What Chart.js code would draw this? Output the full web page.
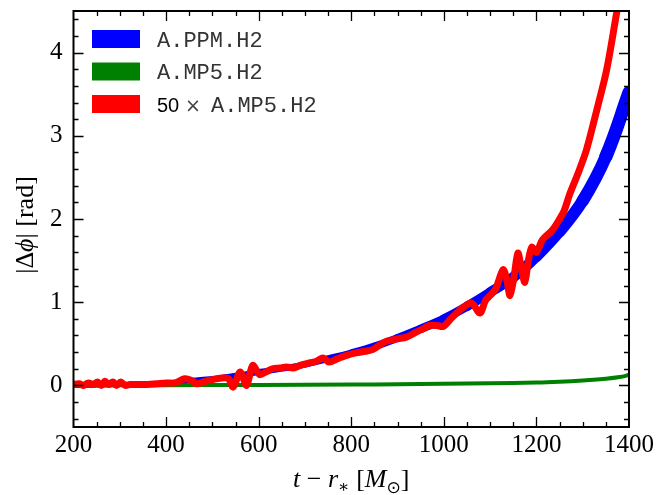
<!DOCTYPE html>
<html>
<head>
<meta charset="utf-8">
<script src="https://cdn.jsdelivr.net/npm/chart.js@4.4.0/dist/chart.umd.min.js"></script>
<style>
  html, body { margin: 0; padding: 0; background: #fff; }
</style>
</head>
<body>
<canvas id="myChart" width="657" height="495"></canvas>
<script>
// Series (t - r_* in M_sun, |delta phi| in rad)
var ppmTime  = [200, 300, 400, 460, 530, 600, 690, 750, 800, 850, 900, 950, 1000, 1050, 1100, 1150, 1200, 1250, 1300, 1350, 1400];
var ppmPhase = [0.0, 0.01, 0.03, 0.06, 0.10, 0.16, 0.24, 0.32, 0.39, 0.47, 0.57, 0.68, 0.80, 0.95, 1.12, 1.30, 1.55, 1.85, 2.22, 2.75, 3.52];

var mp5Time  = [200, 400, 600, 800, 900, 1000, 1100, 1200, 1250, 1300, 1350, 1380, 1400];
var mp5Phase = [0.0, 0.003, 0.006, 0.010, 0.014, 0.020, 0.026, 0.035, 0.045, 0.060, 0.080, 0.100, 0.125];

var mp5x50Time  = [200, 212, 222, 232, 243, 252, 260, 268, 276, 285, 293, 302, 312, 322, 340, 360, 380, 400, 420, 440, 455, 466, 480, 500, 520, 535,
                   545, 560, 574, 587, 602, 615, 630, 646, 660, 675, 690, 710, 725, 739, 752, 770, 790, 810, 830, 846, 860, 876, 900, 919,
                   940, 955, 970, 985, 999, 1015, 1028, 1040, 1060, 1078, 1090, 1100, 1112, 1128, 1136, 1143, 1152, 1160, 1167,
                   1175, 1182, 1190, 1200, 1213, 1235, 1250, 1260, 1272, 1290, 1308, 1330, 1352, 1374, 1390];
var mp5x50Phase = [0.01, 0.02, 0.0, 0.03, 0.01, 0.04, 0.0, 0.05, 0.01, 0.04, 0.0, 0.04, 0.0, 0.01, 0.01, 0.01, 0.02, 0.03, 0.03, 0.08, 0.06, 0.02, 0.04, 0.07, 0.09, 0.08,
                   -0.02, 0.16, 0.0, 0.24, 0.13, 0.16, 0.20, 0.21, 0.22, 0.21, 0.24, 0.27, 0.29, 0.33, 0.28, 0.32, 0.36, 0.39, 0.41, 0.43, 0.48, 0.53, 0.56, 0.58,
                   0.64, 0.68, 0.72, 0.72, 0.71, 0.80, 0.87, 0.93, 0.99, 0.87, 1.02, 1.08, 1.16, 1.39, 1.27, 1.08, 1.32, 1.59, 1.42,
                   1.24, 1.48, 1.66, 1.60, 1.75, 1.87, 2.0, 2.1, 2.3, 2.55, 2.83, 3.30, 3.80, 4.50, 5.00];

var seriesLabels = ['A.PPM.H2', 'A.MP5.H2', '50 × A.MP5.H2'];
var seriesColors = ['#0000ff', '#008000', '#ff0000'];

var xTickLabels = ['200', '400', '600', '800', '1000', '1200', '1400'];
var yTickLabels = ['0', '1', '2', '3', '4'];
var yMinorStep = 0.2;

function toPoints(xs, ys) {
    return xs.map(function(x, i) { return { x: x, y: ys[i] }; });
}

var serif = '"Liberation Serif", "DejaVu Serif", serif';

// mixed-font text, drawn centred on (cx, cy)
function drawRich(ctx, parts, cx, cy) {
    var total = 0;
    parts.forEach(function(p) {
        ctx.font = p.f;
        p.w = ctx.measureText(p.t).width;
        total += p.w;
    });
    var xx = cx - total / 2;
    parts.forEach(function(p) {
        ctx.font = p.f;
        ctx.fillText(p.t, xx, cy + (p.dy || 0));
        xx += p.w;
    });
}

// inward ticks on all four sides plus the black frame
var frameTicks = {
    id: 'frameTicks',
    afterDatasetsDraw: function(chart) {
        var ctx = chart.ctx, a = chart.chartArea;
        var x = chart.scales.x, y = chart.scales.y;
        ctx.save();
        ctx.strokeStyle = '#000';
        ctx.lineWidth = 1.3;
        ctx.beginPath();
        x.ticks.forEach(function(t) {
            if (t.value <= x.min || t.value >= x.max) return;
            var px = Math.round(x.getPixelForValue(t.value)) + 0.5;
            var len = t.label ? 10 : 5;
            ctx.moveTo(px, a.bottom); ctx.lineTo(px, a.bottom - len);
            ctx.moveTo(px, a.top); ctx.lineTo(px, a.top + len);
        });
        y.ticks.forEach(function(t) {
            if (t.value <= y.min || t.value >= y.max) return;
            var py = Math.round(y.getPixelForValue(t.value)) + 0.5;
            var len = t.label ? 10 : 5;
            ctx.moveTo(a.left, py); ctx.lineTo(a.left + len, py);
            ctx.moveTo(a.right, py); ctx.lineTo(a.right - len, py);
        });
        ctx.stroke();
        ctx.lineWidth = 2;
        ctx.strokeRect(a.left, a.top, a.right - a.left, a.bottom - a.top);
        ctx.restore();
    }
};

// legend inside the axes plus the two math axis titles
var insetLegend = {
    id: 'insetLegend',
    afterDraw: function(chart) {
        var ctx = chart.ctx, a = chart.chartArea;
        ctx.save();
        ctx.textBaseline = 'alphabetic';
        chart.data.datasets.forEach(function(ds, i) {
            var top = 30 + i * 32.5;
            ctx.fillStyle = ds.borderColor;
            ctx.fillRect(92, top, 48, 18);
            var base = top + 9 + 7.5;
            var label = ds.label;
            var tx = 157;
            var k = label.indexOf(' × ');
            if (k >= 0) {
                ctx.fillStyle = '#000';
                ctx.font = '20px "Liberation Sans", sans-serif';
                ctx.fillText(label.slice(0, k), tx, base);
                ctx.fillStyle = '#444';
                ctx.font = '19px "DejaVu Sans", sans-serif';
                ctx.fillText('×', 185, base);
                tx = 211;
                label = label.slice(k + 3);
            }
            ctx.fillStyle = '#333';
            ctx.font = '22px "Liberation Mono", monospace';
            ctx.fillText(label, tx, base);
        });

        ctx.fillStyle = '#000';
        var it = 'italic 26px ' + serif, rm = '26px ' + serif;
        drawRich(ctx, [
            { t: 't', f: it }, { t: ' − ', f: rm }, { t: 'r', f: it },
            { t: '∗', f: '17px "DejaVu Serif"', dy: 5 }, { t: ' [', f: rm }, { t: 'M', f: it },
            { t: '⊙', f: '17px "DejaVu Sans"', dy: 6 }, { t: ']', f: rm }
        ], (a.left + a.right) / 2, 487);

        ctx.translate(33, (a.top + a.bottom) / 2 + 6);
        ctx.rotate(-Math.PI / 2);
        drawRich(ctx, [
            { t: '|Δ', f: rm }, { t: 'ϕ', f: it }, { t: '| [rad]', f: rm }
        ], 0, 0);
        ctx.restore();
    }
};

var ctx = document.getElementById('myChart').getContext('2d');

var myChart = new Chart(ctx, {
    type: 'line',
    data: {
        datasets: [{
            label: seriesLabels[0],
            data: toPoints(ppmTime, ppmPhase),
            borderColor: seriesColors[0],
            backgroundColor: seriesColors[0],
            borderWidth: 8,
            borderCapStyle: 'round',
            borderJoinStyle: 'round',
            tension: 0.4,
            order: 3,
            clip: 0,
            segment: {
                borderWidth: function(c) {
                    var t = (c.p0.parsed.x - 200) / 1200;
                    return 5 + 9 * t * t;
                }
            }
        }, {
            label: seriesLabels[1],
            data: toPoints(mp5Time, mp5Phase),
            borderColor: seriesColors[1],
            backgroundColor: seriesColors[1],
            borderWidth: 4,
            tension: 0.4,
            order: 2,
            clip: 0
        }, {
            label: seriesLabels[2],
            data: toPoints(mp5x50Time, mp5x50Phase),
            borderColor: seriesColors[2],
            backgroundColor: seriesColors[2],
            borderWidth: 7,
            borderJoinStyle: 'round',
            tension: 0.3,
            order: 1,
            clip: 0
        }]
    },
    options: {
        responsive: false,
        animation: false,
        layout: { padding: { top: 11, right: 28, left: 0, bottom: 0 } },
        elements: { point: { radius: 0 } },
        plugins: {
            legend: { display: false },
            tooltip: { enabled: false }
        },
        scales: {
            x: {
                type: 'linear',
                min: 200,
                max: 1400,
                grid: { display: false, drawTicks: false },
                border: { display: false },
                ticks: {
                    stepSize: 50,
                    autoSkip: false,
                    maxRotation: 0,
                    padding: 3,
                    color: '#000',
                    font: { family: serif, size: 25 },
                    callback: function(v) {
                        var s = String(Math.round(v));
                        return xTickLabels.indexOf(s) >= 0 ? s : '';
                    }
                },
                afterFit: function(s) {
                    s.height = 68;
                    s.paddingLeft = 0;
                    s.paddingRight = 0;
                }
            },
            y: {
                type: 'linear',
                min: -0.5,
                max: 4.5,
                grid: { display: false, drawTicks: false },
                border: { display: false },
                afterBuildTicks: function(s) {
                    var ticks = [];
                    for (var k = Math.ceil(s.min / yMinorStep); k * yMinorStep <= s.max + 1e-9; k++) {
                        ticks.push({ value: Math.round(k * yMinorStep * 10) / 10 });
                    }
                    s.ticks = ticks;
                },
                ticks: {
                    autoSkip: false,
                    padding: 11,
                    color: '#000',
                    font: { family: serif, size: 25 },
                    callback: function(v) {
                        if (Math.abs(v - Math.round(v)) > 1e-6) return '';
                        var s = String(Math.round(v));
                        return yTickLabels.indexOf(s) >= 0 ? s : '';
                    }
                },
                afterFit: function(s) {
                    s.width = 73.5;
                    s.paddingTop = 0;
                    s.paddingBottom = 0;
                }
            }
        }
    },
    plugins: [frameTicks, insetLegend]
});
</script>
</body>
</html>
